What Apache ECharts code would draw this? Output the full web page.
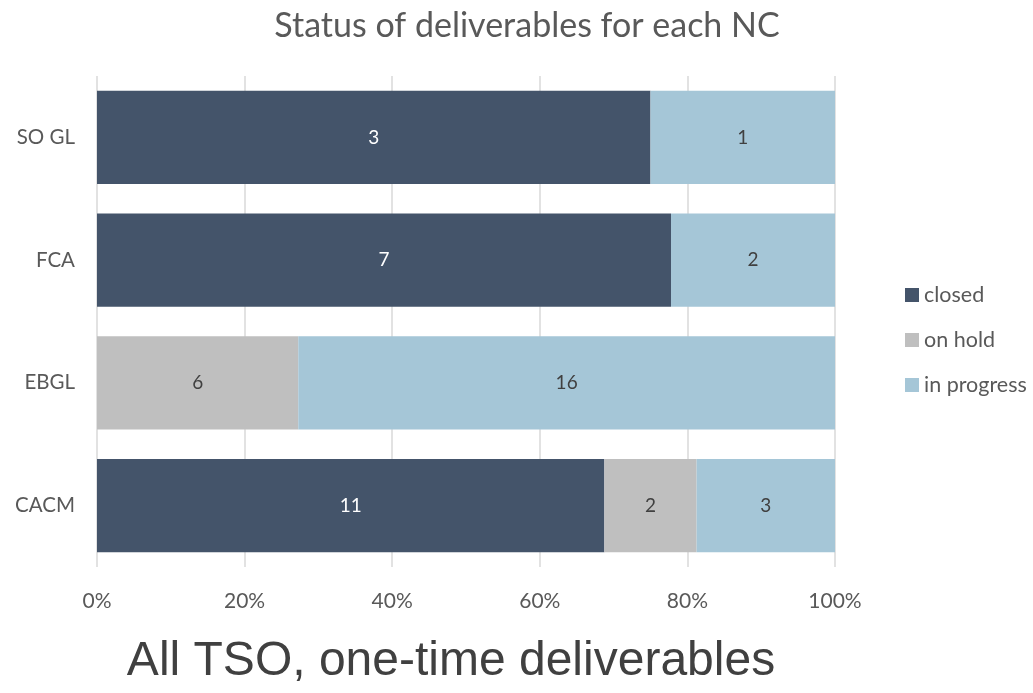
<!DOCTYPE html>
<html>
<head>
<meta charset="utf-8">
<script src="https://cdn.jsdelivr.net/npm/echarts@6/dist/echarts.min.js"></script>
<style>html,body{margin:0;padding:0;background:#fff}#c{width:1033px;height:693px}</style>
</head>
<body>
<div id="c"></div>
<script>
const categories = ['CACM', 'EBGL', 'FCA', 'SO GL'];
const closed = [11, 0, 7, 3];
const onHold = [2, 6, 0, 0];
const inProgress = [3, 16, 2, 1];
const xTicks = [0, 20, 40, 60, 80, 100];

const totals = categories.map((_, i) => closed[i] + onHold[i] + inProgress[i]);
const pct = arr => arr.map((v, i) => v / totals[i] * 100);
const counts = { closed: closed, 'on hold': onHold, 'in progress': inProgress };

const font = 'Lato, "Noto Sans", sans-serif';
const chart = echarts.init(document.getElementById('c'));
function mk(name, arr, color, labelColor) {
  return {
    name: name, type: 'bar', stack: 'a', data: pct(arr),
    barCategoryGap: '24%',
    itemStyle: { color: color },
    label: {
      show: true, position: 'inside', color: labelColor, fontSize: 19, fontFamily: font,
      formatter: p => { const v = counts[name][p.dataIndex]; return v ? String(v) : ''; }
    }
  };
}
chart.setOption({
  animation: false,
  title: [
    { text: 'Status of deliverables for each NC', left: 522, top: 4, textAlign: 'center',
      textStyle: { fontFamily: font, fontSize: 34, fontWeight: 'normal', color: '#595959' } },
    { text: 'All TSO, one-time deliverables', left: 446, top: 633, textAlign: 'center',
      textStyle: { fontFamily: '"Liberation Sans", Arial, sans-serif', fontSize: 48, fontWeight: 'normal', color: '#404040' } }
  ],
  legend: {
    orient: 'vertical', left: 900, top: 279, itemGap: 23, itemWidth: 14, itemHeight: 14,
    icon: 'rect', itemStyle: { borderWidth: 0 },
    textStyle: { fontFamily: font, fontSize: 21.5, color: '#595959' },
    data: ['closed', 'on hold', 'in progress']
  },
  grid: { left: 97, right: 198, top: 76, bottom: 126 },
  xAxis: {
    type: 'value', min: 0, max: 100, interval: 20,
    axisLine: { show: false }, axisTick: { show: false },
    splitLine: { lineStyle: { color: '#D9D9D9', width: 1.5 } },
    axisLabel: { margin: 24, fontFamily: font, fontSize: 21, color: '#595959',
      formatter: v => xTicks.includes(v) ? v + '%' : '' }
  },
  yAxis: {
    type: 'category', data: categories,
    axisLine: { show: false }, axisTick: { show: false },
    axisLabel: { margin: 22, fontFamily: font, fontSize: 20.5, color: '#595959' }
  },
  series: [
    mk('closed', closed, '#44546A', '#ffffff'),
    mk('on hold', onHold, '#BFBFBF', '#404040'),
    mk('in progress', inProgress, '#A5C6D7', '#404040')
  ]
});
</script>
</body>
</html>
